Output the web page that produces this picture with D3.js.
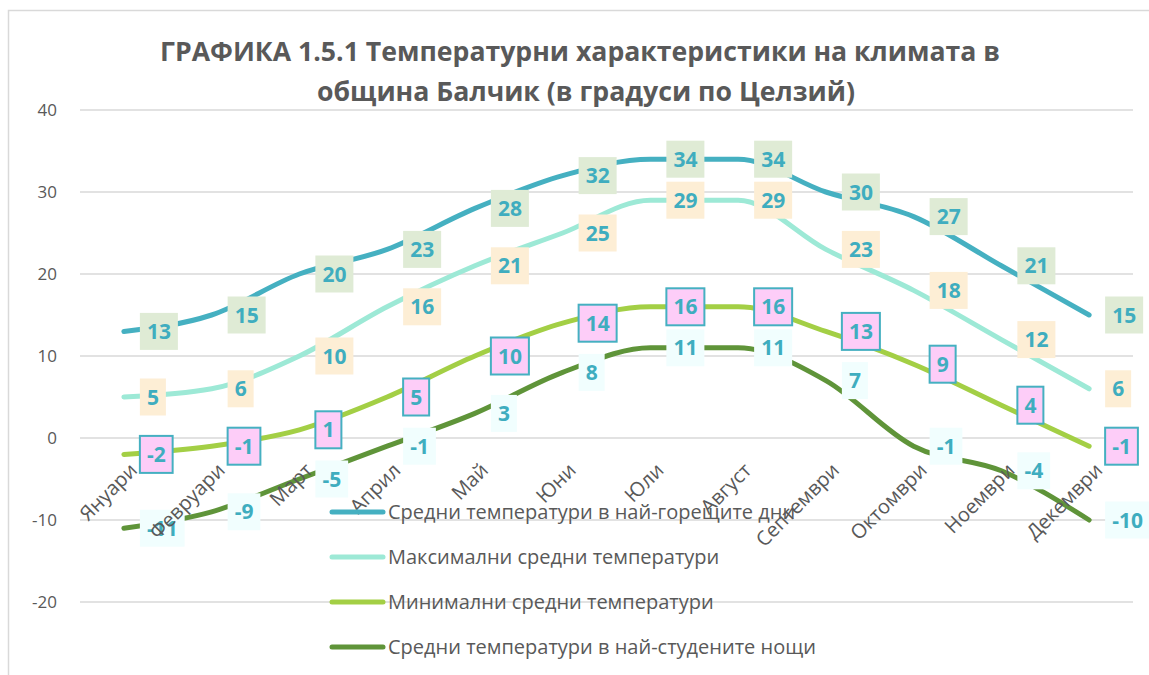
<!DOCTYPE html>
<html>
<head>
<meta charset="utf-8">
<script src="https://cdn.jsdelivr.net/npm/d3@7"></script>
<style>
  body { margin: 0; background: #fff; }
  svg { display: block; }
</style>
</head>
<body>
<div id="chart"></div>
<script>
var months = ["Януари", "Февруари", "Март", "Април", "Май", "Юни", "Юли", "Август", "Септември", "Октомври", "Ноември", "Декември"];
var hotDays = [13, 15, 20, 23, 28, 32, 34, 34, 30, 27, 21, 15];
var maxAvg = [5, 6, 10, 16, 21, 25, 29, 29, 23, 18, 12, 6];
var minAvg = [-2, -1, 1, 5, 10, 14, 16, 16, 13, 9, 4, -1];
var coldNights = [-11, -9, -5, -1, 3, 8, 11, 11, 7, -1, -4, -10];
var seriesNames = ["Средни температури в най-горещите дни", "Максимални средни температури", "Минимални средни температури", "Средни температури в най-студените нощи"];
var yTicks = [-20, -10, 0, 10, 20, 30, 40];

var width = 1149, height = 675;
var plot = {left: 80, right: 1133, top: 110, bottom: 602};

var series = [
  {name: seriesNames[0], values: hotDays, color: "#45b0c1", boxFill: "#dfebd5", boxStroke: "none"},
  {name: seriesNames[1], values: maxAvg, color: "#9de9d6", boxFill: "#fdeed5", boxStroke: "none"},
  {name: seriesNames[2], values: minAvg, color: "#a3cf45", boxFill: "#fdcdf8", boxStroke: "#45b0c1"},
  {name: seriesNames[3], values: coldNights, color: "#5f9439", boxFill: "#f1fefe", boxStroke: "none"}
];

var svg = d3.select("#chart").append("svg")
    .attr("width", width)
    .attr("height", height);

// chart border
svg.append("rect")
    .attr("x", 8.5).attr("y", 10.5)
    .attr("width", 1160).attr("height", 700)
    .attr("fill", "none")
    .attr("stroke", "#d9d9d9")
    .attr("stroke-width", 1.5);

var x = d3.scaleBand()
    .domain(months)
    .range([plot.left, plot.right]);

var y = d3.scaleLinear()
    .domain([-20, 40])
    .range([plot.bottom, plot.top]);

var cx = function(i) { return x(months[i]) + x.bandwidth() / 2; };

// title
var title = svg.append("g")
    .attr("font-family", "Open Sans, sans-serif")
    .attr("font-weight", "bold")
    .attr("font-size", 27)
    .attr("fill", "#595959")
    .attr("text-anchor", "middle");
title.append("text").attr("x", 580).attr("y", 61)
    .attr("textLength", 840).attr("lengthAdjust", "spacingAndGlyphs")
    .text("ГРАФИКА 1.5.1 Температурни характеристики на климата в");
title.append("text").attr("x", 586).attr("y", 101)
    .attr("textLength", 538).attr("lengthAdjust", "spacingAndGlyphs")
    .text("община Балчик (в градуси по Целзий)");

// gridlines + y labels
var yAxis = svg.append("g");
yAxis.selectAll("line")
    .data(yTicks)
    .enter().append("line")
    .attr("x1", plot.left).attr("x2", plot.right)
    .attr("y1", function(d) { return y(d); })
    .attr("y2", function(d) { return y(d); })
    .attr("stroke", "#d9d9d9")
    .attr("stroke-width", 1.5);
yAxis.selectAll("text")
    .data(yTicks)
    .enter().append("text")
    .attr("x", 57)
    .attr("y", function(d) { return y(d); })
    .attr("dy", "0.35em")
    .attr("text-anchor", "end")
    .attr("font-family", "Open Sans, sans-serif")
    .attr("font-size", 17)
    .attr("fill", "#595959")
    .text(function(d) { return d; });

// lines
var line = d3.line()
    .x(function(d, i) { return cx(i); })
    .y(function(d) { return y(d); })
    .curve(d3.curveMonotoneX);

svg.append("g")
    .selectAll("path")
    .data(series)
    .enter().append("path")
    .attr("d", function(s) { return line(s.values); })
    .attr("fill", "none")
    .attr("stroke", function(s) { return s.color; })
    .attr("stroke-width", 5)
    .attr("stroke-linecap", "round")
    .attr("stroke-linejoin", "round");

// data labels
series.forEach(function(s) {
  var g = svg.append("g").selectAll("g")
      .data(s.values)
      .enter().append("g")
      .attr("transform", function(d, i) { return "translate(" + (cx(i) + 16) + "," + y(d) + ")"; });
  var txt = g.append("text")
      .attr("font-family", "Open Sans, sans-serif")
      .attr("font-weight", "bold")
      .attr("font-size", 21)
      .attr("fill", "#3fadbf")
      .attr("text-anchor", "middle")
      .attr("dy", "0.36em")
      .text(function(d) { return d; });
  txt.each(function() {
    var w = this.getComputedTextLength() + 14;
    var p = d3.select(this.parentNode);
    p.insert("rect", "text")
        .attr("x", 0).attr("y", -18.5)
        .attr("width", w).attr("height", 37)
        .attr("fill", s.boxFill)
        .attr("stroke", s.boxStroke)
        .attr("stroke-width", 2);
    d3.select(this).attr("x", w / 2);
  });
});

// category labels (rotated), drawn over the data labels
svg.append("g")
    .selectAll("text")
    .data(months)
    .enter().append("text")
    .attr("transform", function(d, i) { return "translate(" + (cx(i) + 4) + "," + 461 + ") rotate(-45)"; })
    .attr("text-anchor", "end")
    .attr("dy", "0.75em")
    .attr("font-family", "Open Sans, sans-serif")
    .attr("font-size", 20)
    .attr("fill", "#595959")
    .text(function(d) { return d; });

// legend (overlaid on plot)
var legend = svg.append("g")
    .selectAll("g")
    .data(series)
    .enter().append("g")
    .attr("transform", function(d, i) { return "translate(332," + (512 + i * 45) + ")"; });
legend.append("line")
    .attr("x1", 0).attr("x2", 51)
    .attr("stroke", function(d) { return d.color; })
    .attr("stroke-width", 5)
    .attr("stroke-linecap", "round");
legend.append("text")
    .attr("x", 56)
    .attr("dy", "0.35em")
    .attr("font-family", "Open Sans, sans-serif")
    .attr("font-size", 20)
    .attr("fill", "#595959")
    .text(function(d) { return d.name; });
</script>
</body>
</html>
